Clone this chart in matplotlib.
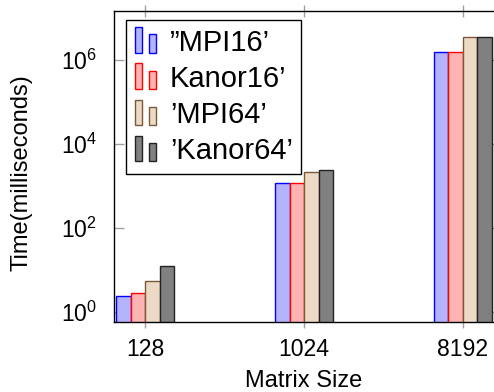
import matplotlib
matplotlib.use("Agg")
import matplotlib.pyplot as plt
from matplotlib.patches import Rectangle
from matplotlib.legend_handler import HandlerBase
from matplotlib.container import BarContainer
from matplotlib.ticker import NullLocator
import numpy as np

plt.rcParams['font.family'] = ['Liberation Sans', 'DejaVu Sans']
plt.rcParams['mathtext.fontset'] = 'custom'
plt.rcParams['mathtext.rm'] = 'Liberation Sans'
plt.rcParams['mathtext.it'] = 'Liberation Sans:italic'

categories = ['128', '1024', '8192']
series_names = ['\u201dMPI16\u2019', 'Kanor16\u2019', '\u2019MPI64\u2019', '\u2019Kanor64\u2019']
MPI16 = [2.4, 1200, 1.58e6]
Kanor16 = [2.9, 1200, 1.58e6]
MPI64 = [5.5, 2150, 3.56e6]
Kanor64 = [12.4, 2450, 3.56e6]
series = [MPI16, Kanor16, MPI64, Kanor64]
ytick_vals = [1, 1e2, 1e4, 1e6]

fills = ['#b3b3ff', '#ffb3b3', '#ecd9c6', '#808080']
edges = ['#0000ff', '#ff0000', '#7a5a3a', '#222222']

fig = plt.figure(figsize=(4.94, 3.92), dpi=100)
ax = fig.add_axes([114/494, 70/392, 388/494, 311.3/392])

x = np.arange(len(categories))
w = 0.0913
containers = []
for i, (vals, fc, ec, name) in enumerate(zip(series, fills, edges, series_names)):
    c = ax.bar(x + (i - 1.5) * w, vals, width=w, facecolor=fc, edgecolor=ec,
               linewidth=1.0, label=name, zorder=2)
    containers.append(c)

ax.set_yscale('log')
ax.set_ylim(10**-0.238, 10**7.174)
ax.set_xlim(-0.198, 2.246)
ax.set_yticks(ytick_vals)
ax.yaxis.set_minor_locator(NullLocator())
ax.set_xticks(x)
ax.set_xticklabels(categories)

ax.tick_params(axis='y', which='major', direction='in', length=7.2, width=1.0,
               color='#a0a0a0', labelsize=16.6, pad=12, left=True, right=True)
ax.tick_params(axis='x', which='major', direction='inout', length=8.6, width=1.0,
               color='#a0a0a0', labelsize=16.6, pad=7.5, top=True, bottom=True)
for s in ax.spines.values():
    s.set_linewidth(1.0)
    s.set_color('black')
    s.set_zorder(3)

ax.set_xlabel('Matrix Size', fontsize=17)
ax.xaxis.set_label_coords(0.4897, -0.155)
ax.set_ylabel('Time(milliseconds)', fontsize=17)
ax.yaxis.set_label_coords(-0.2088, 0.48)


class TwoBarHandler(HandlerBase):
    def create_artists(self, legend, orig_handle, xdescent, ydescent, width,
                       height, fontsize, trans):
        p = orig_handle.patches[0] if isinstance(orig_handle, BarContainer) else orig_handle
        fc = p.get_facecolor()
        ec = p.get_edgecolor()
        bw = width * 0.3
        r1 = Rectangle((-xdescent, -ydescent - 0.1 * height), bw, height * 1.25,
                       facecolor=fc, edgecolor=ec, linewidth=1.0, transform=trans)
        r2 = Rectangle((-xdescent + width * 0.62, -ydescent - 0.1 * height), bw, height * 0.9,
                       facecolor=fc, edgecolor=ec, linewidth=1.0, transform=trans)
        return [r1, r2]


leg = ax.legend(handles=containers, labels=series_names,
                handler_map={BarContainer: TwoBarHandler()},
                loc='upper left', bbox_to_anchor=(0.031, 0.970), borderaxespad=0,
                fontsize=21, fancybox=False, framealpha=1, edgecolor='black',
                handlelength=0.8, handletextpad=0.4, labelspacing=0.28,
                borderpad=0.3)
leg.get_frame().set_linewidth(1.0)
leg.set_zorder(5)

fig.savefig('out.png', dpi=100)
